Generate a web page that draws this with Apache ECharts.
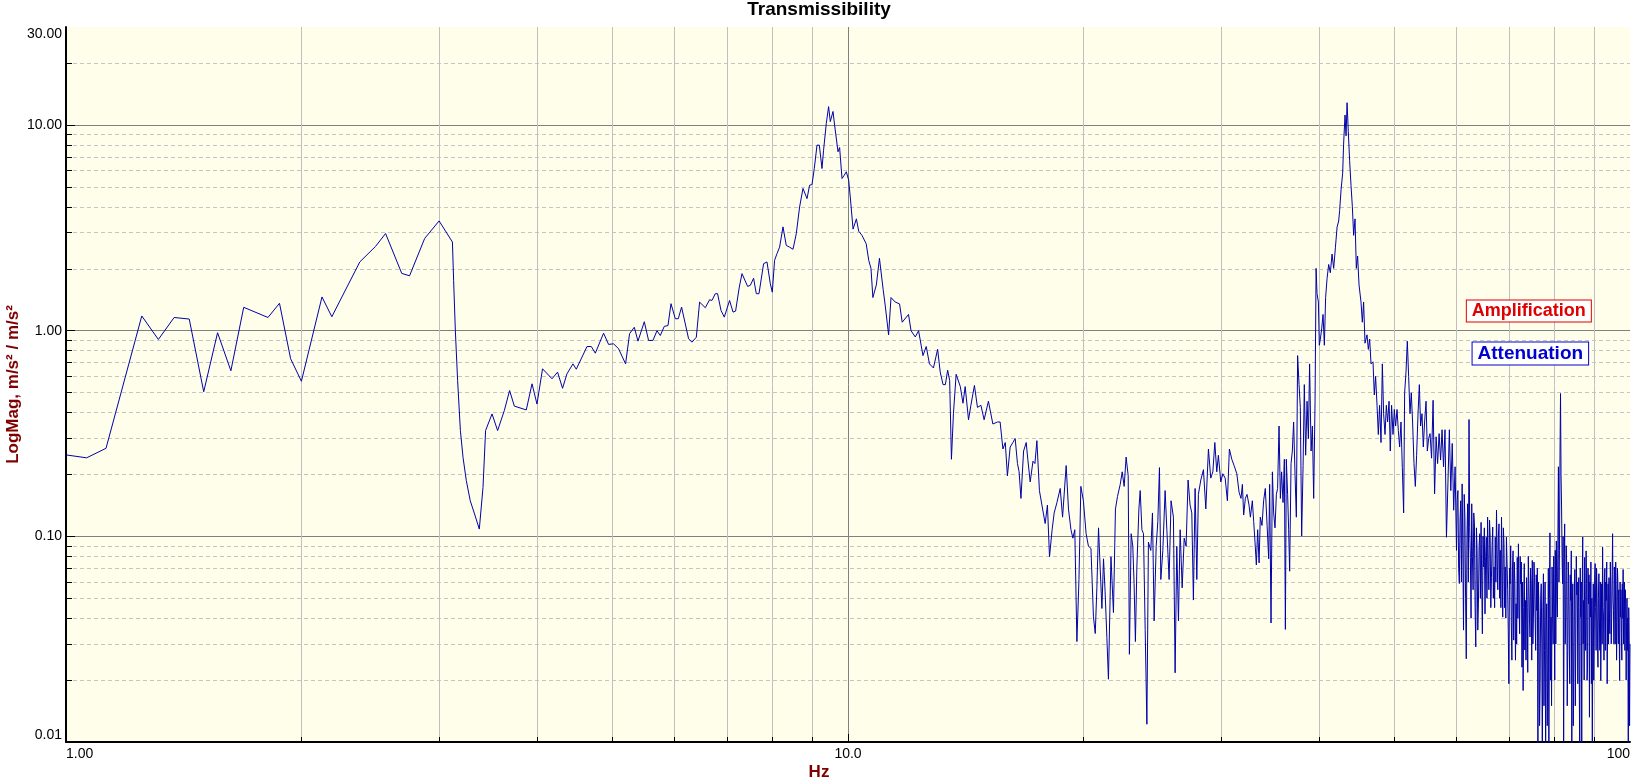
<!DOCTYPE html>
<html>
<head>
<meta charset="utf-8">
<script src="https://cdn.jsdelivr.net/npm/echarts@6/dist/echarts.min.js"></script>
<style>
html,body{margin:0;padding:0;background:#ffffff;}
#chart{width:1638px;height:781px;}
</style>
</head>
<body>
<div id="chart"></div>
<script>
// ---- data: [frequency Hz, transmissibility] ----
const seg1to3Hz = [[1.0,0.249],[1.0625,0.241],[1.125,0.268],[1.25,1.18],[1.3125,0.907],[1.375,1.16],[1.4375,1.14],[1.5,0.505],[1.5625,0.978],[1.625,0.639],[1.6875,1.30],[1.8125,1.16],[1.875,1.36],[1.9375,0.731],[2.0,0.568],[2.125,1.46],[2.1875,1.17],[2.375,2.16],[2.4875,2.57],[2.5625,2.97],[2.6875,1.90],[2.75,1.85],[2.875,2.81],[3.0,3.42],[3.12,2.70],[3.131,1.76],[3.147,1.0],[3.168,0.573],[3.194,0.327],[3.219,0.242],[3.25,0.187],[3.288,0.149],[3.33,0.1285],[3.377,0.1085]];

const seg3to10Hz = [[3.414,0.173],[3.44,0.327],[3.506,0.394],[3.564,0.327],[3.635,0.409],[3.692,0.512],[3.744,0.43],[3.878,0.412],[3.944,0.552],[4.002,0.44],[4.068,0.653],[4.183,0.584],[4.252,0.629],[4.315,0.525],[4.371,0.617],[4.449,0.69],[4.493,0.65],[4.637,0.838],[4.696,0.838],[4.752,0.778],[4.869,0.973],[4.941,0.858],[5.015,0.864],[5.089,0.817],[5.195,0.69],[5.256,0.967],[5.33,1.04],[5.388,0.89],[5.489,1.106],[5.559,0.897],[5.631,0.897],[5.698,1.0],[5.754,0.948],[5.822,1.05],[5.886,1.06],[5.938,1.354],[6.014,1.144],[6.067,1.144],[6.126,1.303],[6.254,0.914],[6.317,0.88],[6.398,0.93],[6.46,1.378],[6.498,1.404],[6.569,1.294],[6.653,1.415],[6.70,1.404],[6.765,1.514],[6.811,1.514],[6.88,1.256],[6.947,1.165],[7.056,1.404],[7.128,1.232],[7.182,1.246],[7.261,1.631],[7.319,1.895],[7.441,1.643],[7.50,1.662],[7.573,1.80],[7.634,1.514],[7.694,1.514],[7.80,2.12],[7.878,2.16],[7.955,1.694],[8.002,1.54],[8.056,2.2],[8.113,2.37],[8.176,2.55],[8.258,3.2],[8.338,2.6],[8.42,2.55],[8.505,2.49],[8.588,2.97],[8.672,4.0],[8.759,4.92],[8.863,4.39],[8.931,5.1],[8.994,5.14],[9.055,6.15],[9.128,7.99],[9.19,7.99],[9.263,6.15],[9.306,7.55],[9.381,10.2],[9.445,12.3],[9.492,10.4],[9.568,11.65],[9.613,10.0],[9.71,7.42],[9.756,7.78],[9.825,5.5],[9.892,5.71],[9.95,5.93],[10.02,5.4]];

const seg10to20Hz = [[10.07,4.42],[10.15,3.12],[10.25,3.50],[10.32,3.05],[10.42,2.91],[10.55,2.65],[10.63,2.20],[10.70,2.01],[10.76,1.45],[10.87,1.67],[10.97,2.25],[11.02,2.25],[11.09,1.59],[11.16,1.32],[11.27,0.955],[11.35,1.45],[11.49,1.38],[11.64,1.35],[11.73,1.10],[11.95,1.20],[12.04,1.0],[12.19,0.933],[12.31,1.0],[12.47,0.757],[12.59,0.838],[12.71,0.690],[12.86,0.659],[13.02,0.812],[13.12,0.629],[13.23,0.547],[13.32,0.547],[13.41,0.643],[13.49,0.573],[13.56,0.237],[13.64,0.395],[13.75,0.614],[13.92,0.535],[14.03,0.444],[14.12,0.535],[14.26,0.369],[14.36,0.434],[14.51,0.542],[14.64,0.424],[14.79,0.434],[14.93,0.369],[15.12,0.454],[15.32,0.352],[15.53,0.360],[15.65,0.360],[15.78,0.266],[15.89,0.286],[15.99,0.197],[16.12,0.272],[16.25,0.286],[16.36,0.299],[16.47,0.226],[16.55,0.206],[16.64,0.153],[16.77,0.260],[16.90,0.286],[16.98,0.237],[17.10,0.184],[17.24,0.232],[17.34,0.226],[17.44,0.292],[17.57,0.167],[17.70,0.142],[17.87,0.1155],[17.99,0.142],[18.10,0.0796],[18.24,0.1077],[18.35,0.130],[18.50,0.146],[18.68,0.171],[18.81,0.124],[19.01,0.221],[19.14,0.136],[19.28,0.1077],[19.39,0.098],[19.50,0.1077],[19.62,0.0308],[19.74,0.0617],[19.85,0.175]];

const seg20to32Hz = [[20.00,0.149],[20.16,0.103],[20.30,0.0895],[20.45,0.0874],[20.60,0.0406],[20.71,0.0337],[20.81,0.0562],[20.91,0.110],[21.01,0.071],[21.12,0.0446],[21.22,0.0778],[21.32,0.0537],[21.43,0.0322],[21.53,0.0202],[21.69,0.0796],[21.85,0.0426],[21.98,0.136],[22.11,0.156],[22.29,0.179],[22.42,0.206],[22.55,0.175],[22.68,0.243],[22.82,0.197],[22.90,0.0267],[23.02,0.103],[23.13,0.0895],[23.22,0.0589],[23.31,0.0308],[23.41,0.071],[23.55,0.136],[23.64,0.167],[23.76,0.1077],[23.87,0.103],[23.99,0.0353],[24.11,0.0122],[24.22,0.0937],[24.39,0.0854],[24.51,0.130],[24.63,0.0388],[24.78,0.0895],[24.90,0.118],[25.02,0.216],[25.12,0.0617],[25.27,0.0854],[25.44,0.167],[25.57,0.1077],[25.74,0.0617],[25.89,0.149],[26.07,0.124],[26.20,0.0217],[26.33,0.0895],[26.46,0.0388],[26.59,0.1077],[26.75,0.0562],[26.91,0.098],[27.06,0.0895],[27.22,0.188],[27.38,0.142],[27.52,0.130],[27.65,0.049],[27.79,0.171],[27.93,0.0617],[28.06,0.160],[28.26,0.188],[28.48,0.211],[28.68,0.136],[28.90,0.266],[29.10,0.192],[29.28,0.206],[29.45,0.286],[29.62,0.206],[29.76,0.248],[29.97,0.184],[30.15,0.2016],[30.36,0.192],[30.56,0.149],[30.74,0.266],[30.96,0.237],[31.17,0.221],[31.42,0.2016],[31.63,0.164]];

const seg32to55Hz = [[31.81,0.153],[31.94,0.179],[32.06,0.127],[32.22,0.153],[32.38,0.160],[32.57,0.142],[32.70,0.124],[32.89,0.149],[33.02,0.118],[33.15,0.0937],[33.28,0.0726],[33.41,0.1077],[33.55,0.0743],[33.67,0.124],[33.84,0.113],[34.00,0.149],[34.17,0.171],[34.35,0.113],[34.51,0.0778],[34.61,0.179],[34.75,0.0379],[34.89,0.206],[35.02,0.130],[35.16,0.110],[35.30,0.160],[35.43,0.171],[35.58,0.344],[35.72,0.153],[35.85,0.206],[36.00,0.146],[36.14,0.237],[36.25,0.0353],[36.35,0.237],[36.49,0.160],[36.60,0.1077],[36.71,0.0677],[36.86,0.226],[37.00,0.260],[37.14,0.360],[37.30,0.197],[37.44,0.124],[37.58,0.757],[37.74,0.547],[37.88,0.424],[38.03,0.1004],[38.19,0.221],[38.33,0.547],[38.48,0.248],[38.64,0.454],[38.79,0.299],[38.93,0.690],[39.10,0.260],[39.25,0.344],[39.40,0.153],[39.56,0.454],[39.68,2.01],[39.79,1.52],[39.95,1.38],[40.06,0.850],[40.18,0.911],[40.34,1.02],[40.50,1.20],[40.66,0.850],[40.81,1.45],[40.98,1.79],[41.18,2.10],[41.38,1.915],[41.59,2.36],[41.79,2.01],[42.00,2.53],[42.21,3.19],[42.41,3.42],[42.53,3.84],[42.71,4.85],[42.91,5.84],[43.03,8.08],[43.21,11.2],[43.34,8.87],[43.47,12.85],[43.63,9.29],[43.80,6.71],[43.98,5.08],[44.15,4.03],[44.32,2.91],[44.50,3.50],[44.67,2.01],[44.84,2.31],[45.03,1.67],[45.29,1.38],[45.47,1.10],[45.64,1.38],[45.83,0.870],[46.10,0.955],[46.28,0.812],[46.46,0.911],[46.65,0.690],[46.92,0.706],[47.10,0.487],[47.28,0.600],[47.48,0.434],[47.66,0.313],[47.84,0.434],[48.04,0.286],[48.23,0.690],[48.41,0.395],[48.61,0.313],[48.80,0.434],[48.98,0.360],[49.19,0.454],[49.37,0.260],[49.56,0.434],[49.77,0.313],[49.96,0.414],[50.15,0.344],[50.36,0.414],[50.55,0.328],[50.75,0.272],[50.95,0.360],[51.15,0.216],[51.35,0.130],[51.50,0.499],[51.71,0.629],[51.91,0.890],[52.11,0.600],[52.32,0.395],[52.52,0.499],[52.72,0.360],[52.94,0.226],[53.15,0.175],[53.35,0.248],[53.57,0.395],[53.78,0.547],[53.98,0.344],[54.20,0.395],[54.41,0.272],[54.62,0.360],[54.85,0.454],[55.06,0.260],[55.27,0.299]];

const seg55to60Hz = [[55.5,0.316],[55.75,0.24],[56.0,0.459],[56.25,0.161],[56.5,0.305],[56.75,0.226],[57.0,0.316],[57.25,0.235],[57.5,0.33],[57.75,0.218],[58.0,0.33],[58.25,0.099],[58.5,0.18],[58.75,0.33],[59.0,0.167],[59.25,0.283],[59.5,0.134],[59.75,0.218]];

const seg60to80Hz = [[60.0,0.0855],[60.125,0.15],[60.25,0.167],[60.375,0.07],[60.5,0.059],[60.625,0.12],[60.75,0.149],[60.875,0.06],[61.0,0.18],[61.125,0.09],[61.25,0.035],[61.375,0.16],[61.5,0.124],[61.625,0.05],[61.75,0.0254],[61.875,0.1],[62.0,0.144],[62.125,0.06],[62.25,0.37],[62.375,0.11],[62.5,0.079],[62.625,0.04],[62.75,0.144],[62.875,0.08],[63.0,0.055],[63.125,0.13],[63.25,0.115],[63.375,0.045],[63.5,0.029],[63.625,0.11],[63.75,0.0855],[63.875,0.035],[64.0,0.047],[64.125,0.09],[64.25,0.103],[64.375,0.05],[64.5,0.117],[64.625,0.06],[64.75,0.0336],[64.875,0.1],[65.0,0.071],[65.125,0.11],[65.25,0.042],[65.375,0.08],[65.5,0.099],[65.625,0.05],[65.75,0.124],[65.875,0.07],[66.0,0.055],[66.125,0.12],[66.25,0.099],[66.375,0.045],[66.5,0.063],[66.625,0.09],[66.75,0.111],[66.875,0.05],[67.0,0.071],[67.125,0.045],[67.25,0.099],[67.375,0.06],[67.5,0.134],[67.625,0.08],[67.75,0.055],[67.875,0.1],[68.0,0.115],[68.125,0.05],[68.25,0.0855],[68.375,0.045],[68.5,0.124],[68.625,0.07],[68.75,0.0405],[68.875,0.11],[69.0,0.092],[69.125,0.045],[69.25,0.071],[69.375,0.04],[69.5,0.099],[69.625,0.075],[69.75,0.055],[69.875,0.035],[70.0,0.0192],[70.125,0.07],[70.25,0.0588],[70.375,0.09],[70.5,0.038],[70.625,0.025],[70.75,0.071],[70.875,0.085],[71.0,0.0313],[71.125,0.075],[71.25,0.0588],[71.375,0.025],[71.5,0.047],[71.625,0.03],[71.75,0.079],[71.875,0.04],[72.0,0.092],[72.125,0.05],[72.25,0.0336],[72.375,0.08],[72.5,0.0588],[72.625,0.075],[72.75,0.0231],[72.875,0.06],[73.0,0.0178],[73.125,0.045],[73.25,0.0737],[73.375,0.028],[73.5,0.0488],[73.625,0.025],[73.75,0.063],[73.875,0.045],[74.0,0.0218],[74.125,0.08],[74.25,0.0588],[74.375,0.04],[74.5,0.0324],[74.625,0.07],[74.75,0.0588],[74.875,0.025],[75.0,0.0764],[75.125,0.03],[75.25,0.0405],[75.375,0.075],[75.5,0.063],[75.625,0.04],[75.75,0.0279],[75.875,0.065],[76.0,0.0436],[76.125,0.07],[76.25,0.008],[76.375,0.06],[76.5,0.0405],[76.625,0.012],[76.75,0.0192],[76.875,0.05],[77.0,0.0588],[77.125,0.03],[77.25,0.008],[77.375,0.045],[77.5,0.0658],[77.625,0.015],[77.75,0.0279],[77.875,0.06],[78.0,0.008],[78.125,0.035],[78.25,0.047],[78.375,0.012],[78.5,0.0231],[78.625,0.07],[78.75,0.008],[78.875,0.05],[79.0,0.104],[79.125,0.02],[79.25,0.0405],[79.375,0.015],[79.5,0.071],[79.625,0.04],[79.75,0.030],[79.875,0.08]];

const seg80to100Hz = [[80.0,0.0488],[80.125,0.02],[80.25,0.0855],[80.375,0.03],[80.5,0.095],[80.625,0.05],[80.75,0.0405],[80.875,0.1],[81.0,0.218],[81.125,0.06],[81.25,0.0855],[81.375,0.25],[81.5,0.495],[81.625,0.2],[81.75,0.139],[81.875,0.08],[82.0,0.0588],[82.125,0.1],[82.25,0.008],[82.375,0.07],[82.5,0.115],[82.625,0.03],[82.75,0.0405],[82.875,0.09],[83.0,0.071],[83.125,0.015],[83.25,0.0279],[83.375,0.075],[83.5,0.0588],[83.625,0.03],[83.75,0.0192],[83.875,0.065],[84.0,0.0488],[84.125,0.085],[84.25,0.008],[84.375,0.04],[84.5,0.0588],[84.625,0.012],[84.75,0.0231],[84.875,0.05],[85.0,0.069],[85.125,0.015],[85.25,0.030],[85.375,0.08],[85.5,0.052],[85.625,0.06],[85.75,0.0192],[85.875,0.045],[86.0,0.063],[86.125,0.02],[86.25,0.008],[86.375,0.07],[86.5,0.0405],[86.625,0.06],[86.75,0.008],[86.875,0.05],[87.0,0.0993],[87.125,0.03],[87.25,0.0488],[87.375,0.02],[87.5,0.079],[87.625,0.04],[87.75,0.0279],[87.875,0.085],[88.0,0.0588],[88.125,0.02],[88.25,0.0231],[88.375,0.07],[88.5,0.047],[88.625,0.065],[88.75,0.0132],[88.875,0.06],[89.0,0.0405],[89.125,0.075],[89.25,0.0192],[89.375,0.05],[89.5,0.008],[89.625,0.04],[89.75,0.0588],[89.875,0.02],[90.0,0.0336],[90.125,0.065],[90.25,0.0737],[90.375,0.045],[90.5,0.0279],[90.625,0.07],[90.75,0.055],[90.875,0.03],[91.0,0.0231],[91.125,0.05],[91.25,0.0658],[91.375,0.04],[91.5,0.0279],[91.625,0.06],[91.75,0.0199],[91.875,0.035],[92.0,0.0588],[92.125,0.03],[92.25,0.0886],[92.375,0.045],[92.5,0.0405],[92.625,0.025],[92.75,0.063],[92.875,0.07],[93.0,0.0279],[93.125,0.06],[93.25,0.0488],[93.375,0.075],[93.5,0.0192],[93.625,0.04],[93.75,0.0588],[93.875,0.03],[94.0,0.063],[94.125,0.04],[94.25,0.0336],[94.375,0.075],[94.5,0.055],[94.625,0.03],[94.75,0.0405],[94.875,0.065],[95.0,0.103],[95.125,0.05],[95.25,0.0436],[95.375,0.03],[95.5,0.071],[95.625,0.06],[95.75,0.030],[95.875,0.075],[96.0,0.055],[96.125,0.025],[96.25,0.038],[96.375,0.07],[96.5,0.0588],[96.625,0.03],[96.75,0.055],[96.875,0.035],[97.0,0.0199],[97.125,0.06],[97.25,0.0405],[97.375,0.055],[97.5,0.0336],[97.625,0.025],[97.75,0.0588],[97.875,0.04],[98.0,0.069],[98.125,0.03],[98.25,0.0405],[98.375,0.06],[98.5,0.0279],[98.625,0.055],[98.75,0.047],[98.875,0.02],[99.0,0.038],[99.125,0.05],[99.25,0.0279],[99.375,0.04],[99.5,0.008],[99.625,0.045],[99.75,0.0313],[99.875,0.012],[100.0,0.030]];

// ---- tick / label values ----
const yLabelValues = [0.01, 0.1, 1, 10, 30];
const yMajorTicks = [0.1, 1, 10];
const yMinorTicks = [0.02,0.03,0.04,0.05,0.06,0.07,0.08,0.09,0.2,0.3,0.4,0.5,0.6,0.7,0.8,0.9,2,3,4,5,6,7,8,9,20];
const xLabelValues = [1, 10, 100];
const xMajorTicks = [10];
const xMinorTicks = [2,3,4,5,6,7,8,9,20,30,40,50,60,70,80,90];

const FONT = '"Liberation Sans", Arial, sans-serif';
const LINE_COLOR = '#0000a8';
const transmissibility = [].concat(seg1to3Hz, seg3to10Hz, seg10to20Hz, seg20to32Hz, seg32to55Hz, seg55to60Hz, seg60to80Hz, seg80to100Hz);

function fmtY(v) { return Number(v).toFixed(2); }
function fmtX(v) { v = Number(v); return v < 9.99 ? v.toFixed(2) : (v < 99.9 ? v.toFixed(1) : v.toFixed(0)); }

const chart = echarts.init(document.getElementById('chart'), null, {renderer: 'canvas'});

const option = {
  animation: false,
  backgroundColor: '#ffffff',
  title: {
    text: 'Transmissibility', left: 'center', top: 0, padding: 0,
    textStyle: {fontFamily: FONT, fontSize: 19, fontWeight: 'bold', color: '#000'}
  },
  grid: {left: 66, right: 8, top: 27, bottom: 39, show: true, backgroundColor: '#fefeea', borderWidth: 0, containLabel: false, outerBoundsMode: 'none'},
  xAxis: [
    {
      type: 'log', logBase: 10, min: 1, max: 100, position: 'bottom',
      name: 'Hz', nameLocation: 'middle', nameGap: 22, nameMoveOverlap: false,
      nameTextStyle: {fontFamily: FONT, fontSize: 17, fontWeight: 'bold', color: '#800000', padding: [0, 58, 0, 0]},
      axisLine: {show: true, onZero: false, lineStyle: {color: '#000', width: 2}},
      axisTick: {show: true, inside: true, length: 8, customValues: xMajorTicks, lineStyle: {color: '#000', width: 1}},
      axisLabel: {show: true, customValues: xLabelValues, formatter: fmtX, margin: 5, fontFamily: FONT, fontSize: 14, color: '#000', alignMinLabel: 'left', alignMaxLabel: 'right'},
      splitLine: {show: true, lineStyle: {color: '#808080', width: 1}}
    },
    {
      type: 'log', logBase: 10, min: 1, max: 100, position: 'bottom',
      axisLine: {show: false},
      axisTick: {show: true, inside: true, length: 5, customValues: xMinorTicks, lineStyle: {color: '#000', width: 1}},
      axisLabel: {show: false},
      splitLine: {show: true, lineStyle: {color: '#c0c0c0', width: 1}}
    }
  ],
  yAxis: [
    {
      type: 'log', logBase: 10, min: 0.01, max: 30, position: 'left',
      name: 'LogMag, m/s\u00b2 / m/s\u00b2', nameLocation: 'middle', nameGap: 44, nameMoveOverlap: false,
      nameTextStyle: {fontFamily: FONT, fontSize: 17, fontWeight: 'bold', color: '#800000'},
      axisLine: {show: true, onZero: false, lineStyle: {color: '#000', width: 2}},
      axisTick: {show: true, inside: true, length: 9, customValues: yMajorTicks, lineStyle: {color: '#000', width: 1}},
      axisLabel: {show: true, customValues: yLabelValues, formatter: fmtY, margin: 4, fontFamily: FONT, fontSize: 14, color: '#000', verticalAlignMinLabel: 'bottom', verticalAlignMaxLabel: 'top'},
      splitLine: {show: true, lineStyle: {color: '#808080', width: 1}}
    },
    {
      type: 'log', logBase: 10, min: 0.01, max: 30, position: 'left',
      axisLine: {show: false},
      axisTick: {show: true, inside: true, length: 6, customValues: yMinorTicks, lineStyle: {color: '#000', width: 1}},
      axisLabel: {show: false},
      splitLine: {show: true, lineStyle: {color: '#c4c4c4', width: 1, type: [4, 3]}}
    }
  ],
  series: [
    {
      type: 'line', name: 'Transmissibility', data: transmissibility,
      xAxisIndex: 0, yAxisIndex: 0,
      showSymbol: false, symbol: 'none', silent: true, z: 5,
      lineStyle: {color: LINE_COLOR, width: 1},
      itemStyle: {color: LINE_COLOR},
      markPoint: {
        silent: true, animation: false, symbol: 'rect', symbolSize: 1,
        itemStyle: {color: 'rgba(0,0,0,0)'},
        data: [
          {coord: [74.24, 1.248], label: {show: true, position: 'inside', formatter: 'Amplification', color: '#e00000', fontFamily: FONT, fontSize: 18, fontWeight: 'bold', backgroundColor: '#ffffff', borderColor: '#e00000', borderWidth: 1, padding: [2, 5, 1, 5]}},
          {coord: [74.57, 0.775], label: {show: true, position: 'inside', formatter: 'Attenuation', color: '#0000d0', fontFamily: FONT, fontSize: 19, fontWeight: 'bold', backgroundColor: '#ffffff', borderColor: '#0000d0', borderWidth: 1, padding: [2, 5, 1, 5]}}
        ]
      }
    }
  ]
};
chart.setOption(option);
</script>
</body>
</html>
